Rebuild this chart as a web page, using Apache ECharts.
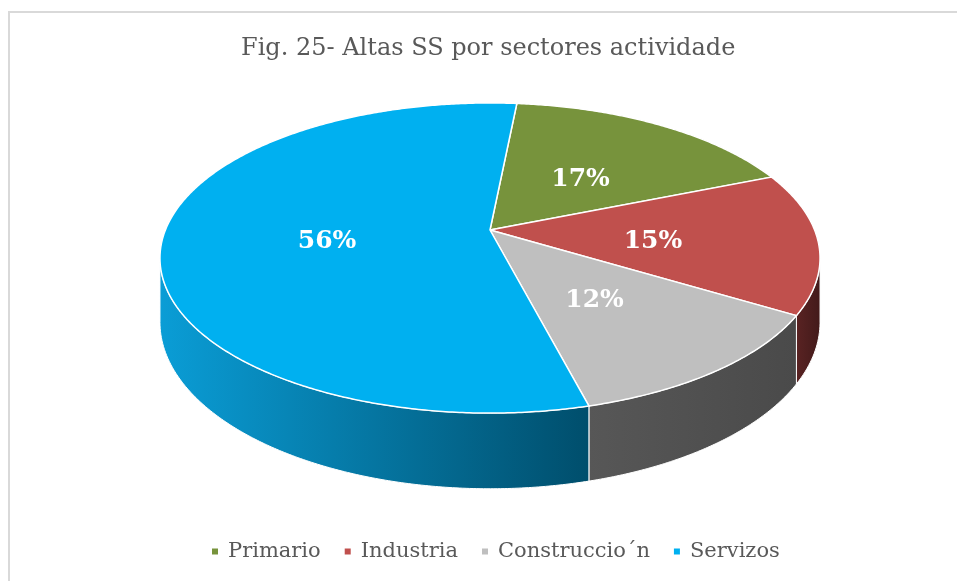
<!DOCTYPE html>
<html>
<head>
<meta charset="utf-8">
<script src="https://cdn.jsdelivr.net/npm/echarts@6/dist/echarts.min.js"></script>
<style>
  html, body { margin: 0; padding: 0; background: #fff; }
  #chart { width: 957px; height: 581px; }
</style>
</head>
<body>
<div id="chart"></div>
<script>
// data (percent of registrations)
const categories = ['Primario', 'Industria', 'Construccio\u00b4n', 'Servizos'];
const shares = [17.3, 14.8, 12.3, 55.6];
const topColors = ['#77933c', '#c0504d', '#bfbfbf', '#00b0f0'];
const wallColors = [['#3c4a1e', '#33401a'], ['#5a2323', '#421a1a'], ['#575757', '#4a4a4a'], ['#0a9dd6', '#004e6c']];

// tilted pie geometry (perspective squash of a flat disc)
const cx = 490, cy = 230;      // centre of the disc on screen
const rx = 324.6, ry = 150;    // half-axes before perspective
const k = 0.1807;              // perspective strength
const depth = 62;              // thickness of the disc
const startAngle = 5.6;        // degrees, clockwise from the back

const total = shares.reduce((a, b) => a + b, 0);

function proj(deg, r) {
  const a = deg * Math.PI / 180;
  const u = r * Math.sin(a), v = r * Math.cos(a);
  const w = 1 + k * v;
  return [cx + rx * u / w, cy - ry * v / w, depth / w];
}

// silhouette of the side wall
const sideFrom = Math.acos(-k) * 180 / Math.PI;
const sideTo = 360 - sideFrom;

function sliceRange(i) {
  let before = 0;
  for (let j = 0; j < i; j++) before += shares[j];
  const a0 = startAngle + 360 * before / total;
  return [a0, a0 + 360 * shares[i] / total];
}

function renderSlice(params, api) {
  const i = params.seriesIndex;
  const [a0, a1] = sliceRange(i);
  const children = [];

  // visible side wall
  const lo = Math.max(a0, sideFrom), hi = Math.min(a1, sideTo);
  if (lo < hi) {
    const topArc = [], botArc = [];
    for (let a = lo; a <= hi; a += 0.5) {
      const p = proj(a, 1);
      topArc.push([p[0], p[1]]);
      botArc.push([p[0], p[1] + p[2]]);
    }
    const pe = proj(hi, 1);
    topArc.push([pe[0], pe[1]]);
    botArc.push([pe[0], pe[1] + pe[2]]);
    children.push({
      type: 'polygon',
      shape: { points: topArc.concat(botArc.reverse()) },
      style: {
        fill: new echarts.graphic.LinearGradient(0, 0, 1, 0, [
          { offset: 0, color: wallColors[i][0] },
          { offset: 1, color: wallColors[i][1] }
        ]),
        stroke: '#fff',
        lineWidth: 1
      }
    });
  }

  // top face
  const pts = [[cx, cy]];
  for (let a = a0; a <= a1; a += 0.5) {
    const p = proj(a, 1);
    pts.push([p[0], p[1]]);
  }
  const pEnd = proj(a1, 1);
  pts.push([pEnd[0], pEnd[1]]);
  children.push({
    type: 'polygon',
    shape: { points: pts },
    style: { fill: topColors[i], stroke: '#fff', lineWidth: 1.5 }
  });

  // percentage label
  const mid = proj((a0 + a1) / 2, 0.5);
  children.push({
    type: 'text',
    x: mid[0], y: mid[1] + 6,
    style: {
      text: Math.round(100 * shares[i] / total) + '%',
      fill: '#fff',
      font: 'bold 25px "DejaVu Serif"',
      align: 'center',
      verticalAlign: 'middle'
    }
  });

  return { type: 'group', children: children };
}

const chart = echarts.init(document.getElementById('chart'));

const option = {
  animation: false,
  title: {
    text: 'Fig. 25- Altas SS por sectores actividade',
    left: 236,
    top: 32,
    textStyle: {
      fontFamily: 'DejaVu Serif',
      fontWeight: 'normal',
      fontSize: 24,
      color: '#595959'
    }
  },
  legend: {
    bottom: 14,
    left: 207,
    icon: 'rect',
    itemWidth: 6,
    itemHeight: 6,
    itemGap: 24,
    data: categories,
    textStyle: {
      fontFamily: 'DejaVu Serif',
      fontSize: 21,
      color: '#595959',
      padding: [0, 0, 0, 5]
    }
  },
  graphic: [{
    type: 'polyline',
    shape: { points: [[9, 581], [9, 12], [957, 12]] },
    style: { stroke: '#d9d9d9', lineWidth: 2, fill: null },
    silent: true
  }],
  series: categories.map((name, i) => ({
    type: 'custom',
    name: name,
    coordinateSystem: 'none',
    itemStyle: { color: topColors[i] },
    renderItem: renderSlice,
    data: [shares[i]]
  }))
};

chart.setOption(option);
</script>
</body>
</html>
